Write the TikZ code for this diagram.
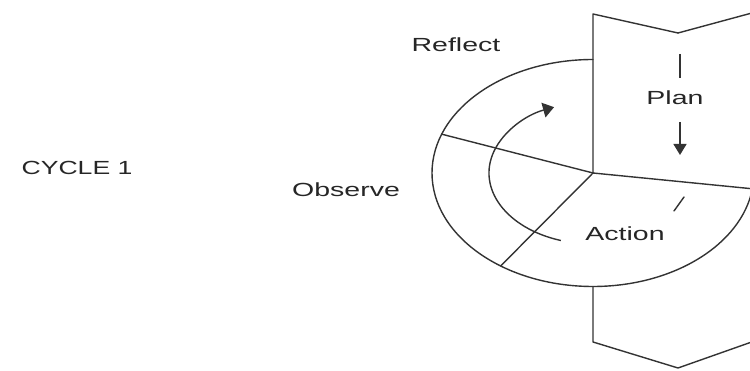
\documentclass[tikz,border=0pt]{standalone}
\usepackage{fontspec}
\setmainfont{Liberation Sans}
\usepackage{graphicx}
\usetikzlibrary{calc,arrows.meta}
\newcommand{\widetxt}[2][1.5]{\scalebox{#1}[1]{#2}}
\begin{document}
\begin{tikzpicture}[x=1pt,y=1pt,
  ln/.style={draw=black!80, line width=1.4pt, line cap=round, line join=round},
  lbl/.style={text=black!85, font=\fontsize{19}{22}\selectfont, inner sep=0pt}]
\useasboundingbox (0,0) rectangle (750,371);
\clip (0,0) rectangle (750,371);
% key points
\coordinate (C) at (593,198);
\coordinate (TL) at (593,357);
\coordinate (TN) at (678,338);
\coordinate (TR) at (763,361);
\coordinate (BL) at (593,29);
\coordinate (BN) at (678,3);
\coordinate (BR) at (763,33);
\coordinate (ET) at ($(C)+(90:161pt and 113.5pt)$);
\coordinate (EB) at ($(C)+(270:161pt and 113.5pt)$);
\coordinate (R) at ($(C)+(160:161pt and 113.5pt)$);
\coordinate (O) at ($(C)+(235:161pt and 113.5pt)$);
\coordinate (P) at ($(C)+(352:161pt and 113.5pt)$);
% band (down arrow shape)
\draw[ln] (TN) -- (TL) -- (C);
\draw[ln] (TN) -- (TR);
\draw[ln] (EB) -- (BL) -- (BN) -- (BR);
% outer cycle
\draw[ln] (ET) arc[start angle=90, end angle=352, x radius=161pt, y radius=113.5pt];
\draw[ln] (C) -- (R);
\draw[ln] (C) -- (O);
\draw[ln] (C) -- (P);
% inner curved arrow
\coordinate (AS) at ($(C)+(252:104pt and 71pt)$);
\draw[ln, line cap=butt, -{Triangle[length=11pt,width=15pt]}] (AS)
  arc[start angle=252, end angle=112, x radius=104pt, y radius=71pt];
% plan arrow
\coordinate (PL1) at (680,317);
\coordinate (PL2) at (680,293);
\coordinate (PA1) at (680,249);
\coordinate (PA2) at (680,216);
\draw[ln, line cap=butt] (PL1) -- (PL2);
\draw[ln, line cap=butt, -{Triangle[length=11pt,width=13pt]}] (PA1) -- (PA2);
% small tick near Action
\coordinate (K1) at (674,160);
\coordinate (K2) at (684,174);
\draw[ln] (K1) -- (K2);
% labels
\node[lbl] (plan) at (675,273) {\widetxt{Plan}};
\node[lbl] (action) at (625,137) {\widetxt{Action}};
\node[lbl] (reflect) at (456,326) {\widetxt{Reflect}};
\node[lbl] (observe) at (346,181) {\widetxt{Observe}};
\node[lbl] (cycle) at (77,203) {\widetxt[1.4]{CYCLE 1}};
\end{tikzpicture}
\end{document}
